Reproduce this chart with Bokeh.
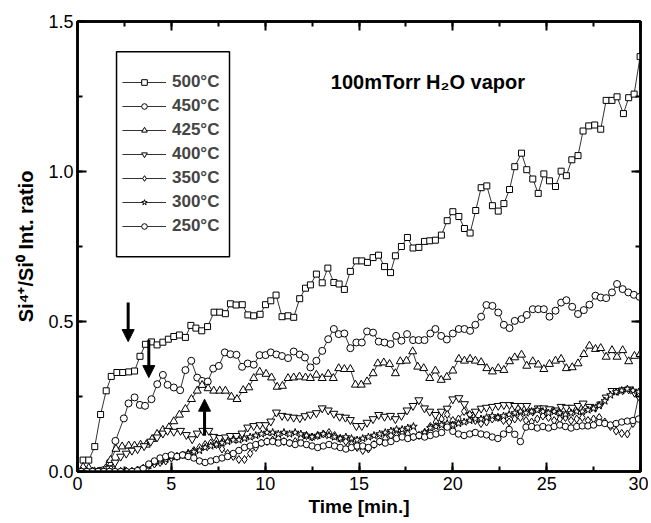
from bokeh.plotting import figure
from bokeh.models import (Range1d, LinearAxis, SingleIntervalTicker, Legend, LegendItem,
                          Label, BoxAnnotation, Arrow, NormalHead, PrintfTickFormatter,
                          CustomLabelingPolicy)
from bokeh.embed import file_html
from bokeh.resources import INLINE

# ---------------- data ----------------
t500 = [0.3, 0.6, 0.92, 1.23, 1.53, 1.8, 2.1, 2.41, 2.73, 3.04, 3.33, 3.62, 3.94, 4.24, 4.55, 4.84,
        5.13, 5.43, 5.75, 6.04, 6.31, 6.62, 6.93, 7.28, 7.58, 7.88, 8.15, 8.45, 8.78, 9.08, 9.39, 9.73,
        10.02, 10.3, 10.58, 10.9, 11.22, 11.52, 11.84, 12.15, 12.41, 12.73, 13.04, 13.34, 13.66, 13.94,
        14.22, 14.54, 14.86, 15.15, 15.45, 15.75, 16.04, 16.36, 16.68, 16.94, 17.26, 17.58, 17.88, 18.19,
        18.49, 18.77, 19.07, 19.39, 19.7, 20.0, 20.32, 20.62, 20.92, 21.22, 21.51, 21.81, 22.11, 22.42,
        22.72, 23.02, 23.3, 23.66, 23.94, 24.26, 24.55, 24.85, 25.15, 25.47, 25.77, 26.05, 26.34, 26.67,
        26.94, 27.24, 27.56, 27.88, 28.17, 28.48, 28.75, 29.09, 29.37, 29.66, 29.98]
v500 = [0.038, 0.038, 0.083, 0.19, 0.269, 0.317, 0.33, 0.33, 0.332, 0.335, 0.384, 0.424, 0.432, 0.422,
        0.431, 0.441, 0.45, 0.455, 0.447, 0.487, 0.478, 0.469, 0.483, 0.531, 0.531, 0.526, 0.559, 0.555,
        0.556, 0.522, 0.519, 0.524, 0.556, 0.569, 0.588, 0.516, 0.519, 0.514, 0.576, 0.611, 0.622, 0.658,
        0.629, 0.678, 0.63, 0.625, 0.607, 0.667, 0.702, 0.702, 0.697, 0.713, 0.721, 0.683, 0.663, 0.719,
        0.75, 0.78, 0.745, 0.747, 0.767, 0.769, 0.771, 0.788, 0.836, 0.866, 0.85, 0.81, 0.795, 0.87,
        0.946, 0.952, 0.886, 0.868, 0.893, 0.94, 1.016, 1.061, 1.006, 0.975, 0.927, 0.992, 0.969, 0.95,
        1.001, 0.986, 1.039, 1.053, 1.135, 1.152, 1.155, 1.141, 1.237, 1.237, 1.249, 1.193, 1.246, 1.258,
        1.383]

t450 = [0.2, 0.5, 0.8, 1.1, 1.4, 1.72, 2.02, 2.47, 2.72, 3.04, 3.32, 3.6, 3.94, 4.25, 4.55, 4.8, 5.13,
        5.47, 5.75, 6.06, 6.38, 6.64, 6.94, 7.23, 7.53, 7.85, 8.15, 8.47, 8.77, 9.07, 9.39, 9.7, 10.02,
        10.3, 10.6, 10.9, 11.22, 11.52, 11.84, 12.12, 12.41, 12.73, 13.04, 13.36, 13.66, 13.92, 14.22,
        14.54, 14.86, 15.15, 15.43, 15.75, 16.05, 16.36, 16.68, 16.98, 17.26, 17.56, 17.88, 18.18, 18.49,
        18.8, 19.07, 19.38, 19.68, 20.0, 20.32, 20.62, 20.92, 21.2, 21.51, 21.79, 22.11, 22.42, 22.72,
        23.02, 23.3, 23.66, 23.94, 24.26, 24.55, 24.85, 25.15, 25.47, 25.77, 26.05, 26.36, 26.67, 26.98,
        27.28, 27.6, 27.88, 28.17, 28.48, 28.75, 29.05, 29.35, 29.65, 29.95]
v450 = [0.0, 0.0, 0.0, 0.0, 0.005, 0.03, 0.102, 0.177, 0.227, 0.247, 0.222, 0.219, 0.241, 0.291, 0.322,
        0.289, 0.28, 0.271, 0.338, 0.369, 0.313, 0.302, 0.3, 0.343, 0.352, 0.397, 0.391, 0.389, 0.349,
        0.36, 0.356, 0.388, 0.388, 0.397, 0.39, 0.385, 0.378, 0.4, 0.39, 0.38, 0.347, 0.369, 0.402, 0.441,
        0.475, 0.458, 0.46, 0.411, 0.43, 0.43, 0.467, 0.463, 0.433, 0.43, 0.425, 0.452, 0.436, 0.458,
        0.438, 0.438, 0.438, 0.46, 0.475, 0.452, 0.44, 0.46, 0.475, 0.475, 0.469, 0.489, 0.516, 0.555,
        0.552, 0.53, 0.489, 0.478, 0.502, 0.508, 0.522, 0.541, 0.541, 0.541, 0.516, 0.536, 0.563, 0.571,
        0.549, 0.525, 0.538, 0.556, 0.586, 0.58, 0.578, 0.597, 0.625, 0.608, 0.597, 0.589, 0.582]

t425 = [0.3, 0.6, 0.9, 1.2, 1.5, 1.76, 2.05, 2.38, 2.73, 3.04, 3.36, 3.66, 3.98, 4.24, 4.55, 4.87, 5.13,
        5.43, 5.75, 6.07, 6.38, 6.64, 6.96, 7.26, 7.58, 7.88, 8.2, 8.5, 8.83, 9.13, 9.39, 9.71, 10.05,
        10.34, 10.64, 10.92, 11.22, 11.52, 11.83, 12.15, 12.41, 12.73, 13.04, 13.36, 13.63, 13.92, 14.22,
        14.54, 14.81, 15.12, 15.43, 15.75, 16.0, 16.32, 16.63, 16.94, 17.2, 17.53, 17.86, 18.13, 18.45,
        18.77, 19.07, 19.38, 19.68, 20.0, 20.32, 20.62, 20.92, 21.2, 21.51, 21.81, 22.11, 22.42, 22.72,
        23.02, 23.3, 23.66, 23.94, 24.26, 24.55, 24.85, 25.15, 25.47, 25.77, 26.05, 26.36, 26.67, 26.98,
        27.28, 27.6, 27.88, 28.17, 28.48, 28.75, 29.05, 29.37, 29.68, 29.98]
v425 = [0.015, 0.012, 0.0, 0.0, 0.01, 0.038, 0.075, 0.083, 0.086, 0.086, 0.089, 0.089, 0.108, 0.125,
        0.138, 0.147, 0.167, 0.189, 0.208, 0.241, 0.269, 0.288, 0.277, 0.269, 0.269, 0.269, 0.249, 0.241,
        0.271, 0.28, 0.311, 0.332, 0.325, 0.313, 0.282, 0.285, 0.311, 0.313, 0.316, 0.313, 0.311, 0.322,
        0.311, 0.325, 0.311, 0.344, 0.341, 0.341, 0.289, 0.289, 0.3, 0.327, 0.36, 0.363, 0.358, 0.327,
        0.367, 0.369, 0.4, 0.349, 0.344, 0.311, 0.336, 0.305, 0.315, 0.336, 0.375, 0.369, 0.375, 0.369,
        0.364, 0.344, 0.333, 0.344, 0.338, 0.367, 0.38, 0.389, 0.352, 0.367, 0.356, 0.341, 0.358, 0.369,
        0.375, 0.344, 0.347, 0.36, 0.391, 0.419, 0.408, 0.411, 0.382, 0.404, 0.382, 0.404, 0.367, 0.385,
        0.391]

t400 = [0.2, 0.5, 0.8, 1.1, 1.4, 1.7, 2.0, 2.3, 2.6, 2.9, 3.2, 3.55, 3.9, 4.24, 4.55, 4.8, 5.13, 5.49,
        5.8, 6.11, 6.38, 6.68, 7.0, 7.26, 7.58, 7.88, 8.15, 8.47, 8.77, 9.07, 9.39, 9.72, 10.02, 10.3,
        10.6, 10.9, 11.2, 11.52, 11.85, 12.12, 12.41, 12.73, 13.04, 13.36, 13.66, 13.97, 14.28, 14.54,
        14.86, 15.15, 15.43, 15.75, 16.05, 16.36, 16.68, 16.94, 17.26, 17.56, 17.88, 18.19, 18.49, 18.77,
        19.07, 19.39, 19.7, 20.0, 20.32, 20.62, 20.92, 21.2, 21.51, 21.79, 22.11, 22.42, 22.72, 23.02,
        23.3, 23.66, 23.94, 24.26, 24.55, 24.85, 25.15, 25.47, 25.77, 26.05, 26.36, 26.67, 26.94, 27.28,
        27.6, 27.88, 28.17, 28.48, 28.75, 29.05, 29.37, 29.68, 29.98]
v400 = [0.0, 0.0, 0.0, 0.0, 0.0, 0.01, 0.03, 0.05, 0.06, 0.07, 0.075, 0.085, 0.1, 0.114, 0.127, 0.136,
        0.133, 0.136, 0.122, 0.108, 0.127, 0.136, 0.136, 0.116, 0.112, 0.114, 0.119, 0.119, 0.127, 0.147,
        0.152, 0.155, 0.155, 0.167, 0.197, 0.186, 0.183, 0.18, 0.178, 0.185, 0.19, 0.195, 0.211, 0.204,
        0.193, 0.183, 0.18, 0.172, 0.152, 0.152, 0.163, 0.175, 0.189, 0.183, 0.186, 0.175, 0.186, 0.204,
        0.219, 0.238, 0.211, 0.2, 0.189, 0.2, 0.21, 0.241, 0.245, 0.225, 0.189, 0.2, 0.21, 0.213, 0.216,
        0.219, 0.222, 0.222, 0.219, 0.219, 0.219, 0.2, 0.211, 0.211, 0.208, 0.204, 0.216, 0.213, 0.213,
        0.219, 0.227, 0.216, 0.213, 0.224, 0.247, 0.269, 0.269, 0.271, 0.274, 0.263, 0.258]

t_low = [0.2, 0.5, 0.8, 1.1, 1.4, 1.7, 2.0, 2.3, 2.6, 2.9, 3.2, 3.5, 3.8, 4.1, 4.4, 4.7, 5.0, 5.3,
         5.6, 5.9, 6.2, 6.5, 6.8, 7.1, 7.4, 7.7, 8.0, 8.3, 8.6, 8.9, 9.2, 9.5, 9.8, 10.1, 10.4, 10.7,
         11.0, 11.3, 11.6, 11.9, 12.2, 12.5, 12.8, 13.1, 13.4, 13.7, 14.0, 14.3, 14.6, 14.9, 15.2, 15.5,
         15.8, 16.1, 16.4, 16.7, 17.0, 17.3, 17.6, 17.9, 18.2, 18.5, 18.8, 19.1, 19.4, 19.7, 20.0, 20.3,
         20.6, 20.9, 21.2, 21.5, 21.8, 22.1, 22.4, 22.7, 23.0, 23.3, 23.6, 23.9, 24.2, 24.5, 24.8, 25.1,
         25.4, 25.7, 26.0, 26.3, 26.6, 26.9, 27.2, 27.5, 27.8, 28.1, 28.4, 28.7, 29.0, 29.3, 29.6, 29.9]
v350 = [0, 0, 0, 0, 0, 0, 0, 0, 0, 0, 0.005, 0.01, 0.02, 0.025, 0.03, 0.035, 0.045, 0.05, 0.055, 0.06,
        0.07, 0.08, 0.09, 0.095, 0.09, 0.075, 0.06, 0.05, 0.04, 0.04, 0.06, 0.08, 0.095, 0.1, 0.105, 0.11,
        0.1, 0.095, 0.1, 0.11, 0.12, 0.115, 0.12, 0.125, 0.13, 0.12, 0.11, 0.1, 0.09, 0.08, 0.07, 0.075,
        0.09, 0.1, 0.11, 0.12, 0.12, 0.13, 0.125, 0.115, 0.12, 0.13, 0.15, 0.165, 0.175, 0.19, 0.17,
        0.175, 0.2, 0.19, 0.17, 0.16, 0.165, 0.175, 0.18, 0.17, 0.165, 0.175, 0.18, 0.17, 0.165, 0.175,
        0.185, 0.18, 0.17, 0.175, 0.18, 0.17, 0.175, 0.18, 0.17, 0.175, 0.18, 0.165, 0.15, 0.135, 0.127,
        0.125, 0.16, 0.25]
v300 = [0, 0, 0, 0, 0, 0, 0, 0, 0, 0, 0.005, 0.01, 0.02, 0.03, 0.035, 0.04, 0.05, 0.05, 0.055, 0.06,
        0.065, 0.07, 0.08, 0.085, 0.09, 0.095, 0.1, 0.105, 0.105, 0.11, 0.115, 0.12, 0.125, 0.13, 0.13,
        0.125, 0.13, 0.125, 0.13, 0.125, 0.12, 0.115, 0.12, 0.125, 0.12, 0.115, 0.11, 0.115, 0.11, 0.105,
        0.11, 0.115, 0.12, 0.125, 0.13, 0.135, 0.14, 0.14, 0.145, 0.15, 0.12, 0.13, 0.145, 0.15, 0.155,
        0.16, 0.155, 0.16, 0.165, 0.17, 0.175, 0.175, 0.18, 0.185, 0.18, 0.185, 0.19, 0.195, 0.2, 0.195,
        0.2, 0.205, 0.2, 0.195, 0.2, 0.195, 0.19, 0.195, 0.2, 0.2, 0.205, 0.21, 0.22, 0.235, 0.255, 0.265,
        0.27, 0.275, 0.27, 0.265]
v250 = [0, 0, 0, 0, 0, 0, 0, 0, 0, 0, 0.003, 0.01, 0.025, 0.035, 0.045, 0.05, 0.055, 0.05, 0.055, 0.05,
        0.045, 0.035, 0.03, 0.035, 0.04, 0.045, 0.05, 0.06, 0.07, 0.08, 0.085, 0.09, 0.095, 0.1, 0.1,
        0.095, 0.1, 0.095, 0.09, 0.095, 0.09, 0.085, 0.08, 0.085, 0.09, 0.085, 0.08, 0.075, 0.08, 0.085,
        0.085, 0.08, 0.09, 0.1, 0.095, 0.1, 0.11, 0.115, 0.11, 0.115, 0.12, 0.115, 0.12, 0.125, 0.13,
        0.148, 0.134, 0.125, 0.12, 0.125, 0.13, 0.125, 0.122, 0.115, 0.11, 0.125, 0.14, 0.124, 0.1, 0.148,
        0.15, 0.145, 0.15, 0.145, 0.15, 0.155, 0.15, 0.145, 0.15, 0.152, 0.152, 0.155, 0.163, 0.16, 0.155,
        0.16, 0.165, 0.168, 0.17, 0.175]

labels = ["500°C", "450°C", "425°C", "400°C", "350°C", "300°C", "250°C"]
markers = ["square", "circle", "triangle", "inverted_triangle", "diamond", "star", "circle"]
sizes = [6, 7, 8, 8, 8, 8, 6.5]
series = [(t500, v500), (t450, v450), (t425, v425), (t400, v400),
          (t_low, v350), (t_low, v300), (t_low, v250)]

# arrows (time, start, end)
arrows = [(2.7, 0.563, 0.433), (3.8, 0.439, 0.313), (6.77, 0.119, 0.241)]

FONT = "Liberation Sans"

p = figure(width=648, height=521, output_backend="svg", toolbar_location=None,
           x_range=Range1d(0, 30), y_range=Range1d(0, 1.5),
           min_border_left=77, min_border_right=8, min_border_top=21, min_border_bottom=50,
           x_axis_label="Time [min.]", y_axis_label="Si⁴⁺/Si⁰ Int. ratio")
p.grid.visible = False
p.outline_line_color = "black"
p.outline_line_width = 2.5
p.background_fill_color = "white"
p.border_fill_color = "white"

xa = p.below[0]
ya = p.left[0]

xt = SingleIntervalTicker(interval=5, num_minor_ticks=2)
yt = SingleIntervalTicker(interval=0.5, num_minor_ticks=2)
xa.ticker = xt
ya.ticker = yt
ya.formatter = PrintfTickFormatter(format="%.1f")

hide = CustomLabelingPolicy(code="const a = [...indices]; for (const i of a) indices.unset(i); return indices")
top = LinearAxis(ticker=xt, major_label_policy=hide)
right = LinearAxis(ticker=yt, major_label_policy=hide)
p.add_layout(top, "above")
p.add_layout(right, "right")

for ax in [xa, ya, top, right]:
    ax.axis_line_width = 2.5
    ax.major_tick_in = 9
    ax.major_tick_out = 0
    ax.minor_tick_in = 5
    ax.minor_tick_out = 0
    ax.major_tick_line_width = 2
    ax.minor_tick_line_width = 2
    ax.major_label_text_font = FONT
    ax.major_label_text_font_size = "18px"
    ax.major_label_text_color = "black"
    ax.axis_label_text_font = FONT
    ax.axis_label_text_font_style = "bold"
    ax.axis_label_text_font_size = "19px"
    ax.axis_label_text_color = "black"
for ax in [top, right]:
    ax.major_label_text_font_size = "1px"
    ax.major_label_standoff = 0

xa.major_label_standoff = 5
xa.axis_label_standoff = 3
ya.major_label_standoff = 4
ya.axis_label_standoff = 8
ya.axis_label_text_font_size = "20px"

items = []
for lab, mk, sz, (tt, vv) in zip(labels, markers, sizes, series):
    lr = p.line(tt, vv, line_color="#333333", line_width=1)
    sr = p.scatter(tt, vv, marker=mk, size=sz, line_color="black", line_width=1,
                   fill_color="white")
    items.append(LegendItem(label=lab, renderers=[lr, sr]))

legend = Legend(items=items, location=(39, 229), margin=0, padding=6, spacing=4,
                glyph_width=44, glyph_height=14, label_height=20, label_standoff=6,
                label_text_font=FONT, label_text_font_style="bold", label_text_font_size="17px",
                border_line_alpha=0, background_fill_alpha=0)
p.add_layout(legend)

p.add_layout(BoxAnnotation(left=2.08, right=8.1, bottom=0.716, top=1.399,
                           fill_alpha=0, line_color="black", line_alpha=1, line_width=1.5))

p.add_layout(Label(x=13.5, y=1.30, text="100mTorr H₂O vapor", text_font=FONT,
                   text_font_style="bold", text_font_size="20px", text_baseline="middle",
                   text_color="black"))

for (xs, ys, ye) in arrows:
    p.add_layout(Arrow(end=NormalHead(size=12, fill_color="black", line_color="black"),
                       x_start=xs, y_start=ys, x_end=xs, y_end=ye,
                       line_width=3, line_color="black"))

open("out.html", "w").write(file_html(p, INLINE))
